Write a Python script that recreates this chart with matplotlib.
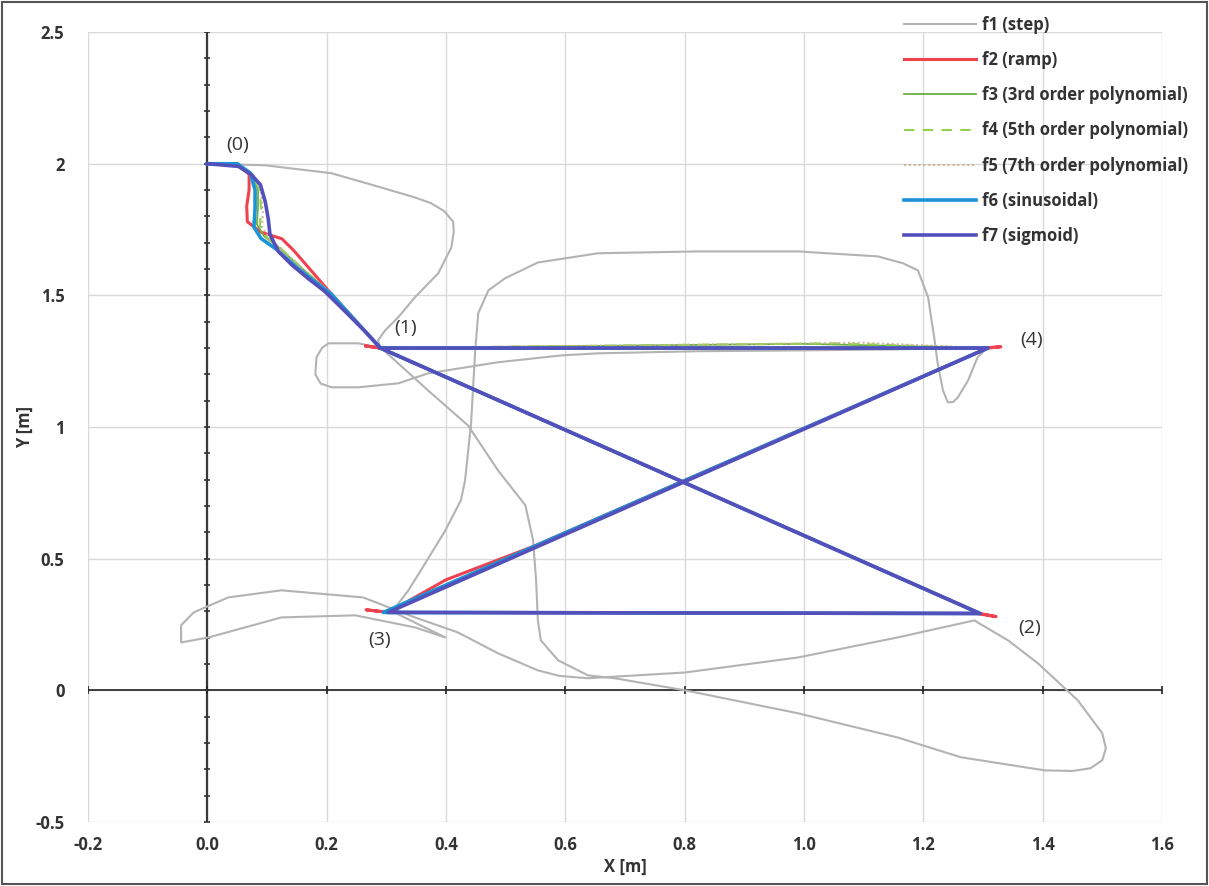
import numpy as np
import matplotlib
matplotlib.use("Agg")
import matplotlib.pyplot as plt
from matplotlib.patches import Rectangle

# ---- data ----
x_ticks = [-0.2, 0.0, 0.2, 0.4, 0.6, 0.8, 1.0, 1.2, 1.4, 1.6]
x_tick_labels = ["-0.2", "0.0", "0.2", "0.4", "0.6", "0.8", "1.0", "1.2", "1.4", "1.6"]
y_ticks = [-0.5, 0.0, 0.5, 1.0, 1.5, 2.0, 2.5]
y_tick_labels = ["-0.5", "0", "0.5", "1", "1.5", "2", "2.5"]

# f1 (step): big overshooting path 0 -> 1 -> 2 -> 3 -> 4 -> 1
f1_x = [0.0, 0.097, 0.208, 0.291, 0.348, 0.375, 0.397, 0.412, 0.413, 0.409, 0.387, 0.348, 0.320, 0.298,
        0.286, 0.290,
        0.370, 0.437, 0.487, 0.533, 0.546, 0.551, 0.554, 0.559, 0.588, 0.638, 0.683, 0.801, 0.990, 1.157,
        1.263, 1.404, 1.450, 1.480, 1.500, 1.506, 1.500, 1.459, 1.392, 1.342, 1.291,
        1.286, 1.157, 0.990, 0.801, 0.638, 0.590, 0.554, 0.487, 0.420, 0.348, 0.261, 0.124, 0.035, -0.023,
        -0.044, -0.044, 0.002, 0.124, 0.248, 0.348, 0.399, 0.350, 0.310,
        0.337, 0.365, 0.399, 0.425, 0.432, 0.442, 0.449, 0.454, 0.471, 0.499, 0.554, 0.655, 0.822, 0.990,
        1.124, 1.166, 1.191, 1.208, 1.213, 1.219, 1.224, 1.233, 1.241, 1.250, 1.258, 1.275, 1.291, 1.308,
        1.157, 0.990, 0.822, 0.655, 0.593, 0.487, 0.370, 0.320, 0.253, 0.208, 0.190, 0.181, 0.183, 0.192,
        0.203, 0.253, 0.286]
f1_y = [2.0, 1.994, 1.964, 1.910, 1.872, 1.850, 1.820, 1.780, 1.740, 1.682, 1.584, 1.493, 1.417, 1.367,
        1.329, 1.303,
        1.139, 1.006, 0.836, 0.703, 0.570, 0.418, 0.266, 0.190, 0.114, 0.057, 0.046, 0.0, -0.087, -0.179,
        -0.254, -0.304, -0.306, -0.296, -0.265, -0.220, -0.163, -0.038, 0.103, 0.190, 0.258,
        0.266, 0.201, 0.125, 0.068, 0.046, 0.055, 0.076, 0.141, 0.220, 0.277, 0.353, 0.380, 0.353, 0.296,
        0.247, 0.182, 0.201, 0.277, 0.285, 0.239, 0.201, 0.255, 0.300,
        0.380, 0.482, 0.608, 0.722, 0.798, 1.014, 1.291, 1.432, 1.519, 1.565, 1.625, 1.660, 1.667, 1.667,
        1.648, 1.622, 1.595, 1.493, 1.417, 1.329, 1.242, 1.139, 1.094, 1.095, 1.113, 1.177, 1.265, 1.303,
        1.295, 1.291, 1.288, 1.280, 1.272, 1.246, 1.204, 1.166, 1.151, 1.151, 1.165, 1.200, 1.265, 1.300,
        1.318, 1.318, 1.303]

# f2 (ramp)
f2_x = [0.0, 0.050, 0.070, 0.070, 0.066, 0.067, 0.090, 0.125, 0.145, 0.210, 0.290, 0.265, 0.290,
        1.295, 1.322, 1.290, 0.305, 0.266, 0.303, 0.400, 0.550, 1.308, 1.330, 1.300, 0.290]
f2_y = [2.0, 2.0, 1.960, 1.900, 1.840, 1.780, 1.740, 1.715, 1.670, 1.500, 1.300, 1.308, 1.300,
        0.292, 0.280, 0.292, 0.296, 0.306, 0.296, 0.420, 0.550, 1.300, 1.305, 1.300, 1.300]

# f3 (3rd order polynomial)
f3_x = [0.0, 0.050, 0.075, 0.085, 0.085, 0.083, 0.095, 0.118, 0.155, 0.208, 0.290,
        1.295, 0.303, 1.308, 1.000, 0.290]
f3_y = [2.0, 2.0, 1.962, 1.900, 1.840, 1.770, 1.725, 1.685, 1.610, 1.505, 1.300,
        0.292, 0.296, 1.300, 1.316, 1.300]

# f4 (5th order polynomial)
f4_x = [0.0, 0.050, 0.076, 0.088, 0.090, 0.088, 0.100, 0.122, 0.158, 0.210, 0.290,
        1.295, 0.303, 1.308, 1.050, 0.290]
f4_y = [2.0, 2.0, 1.960, 1.895, 1.830, 1.765, 1.720, 1.680, 1.605, 1.502, 1.300,
        0.292, 0.296, 1.300, 1.318, 1.300]

# f5 (7th order polynomial)
f5_x = [0.0, 0.050, 0.077, 0.090, 0.093, 0.092, 0.104, 0.125, 0.160, 0.212, 0.290,
        1.295, 0.303, 1.308, 1.100, 0.290]
f5_y = [2.0, 2.0, 1.958, 1.890, 1.820, 1.760, 1.715, 1.676, 1.600, 1.500, 1.300,
        0.292, 0.296, 1.300, 1.320, 1.300]

# f6 (sinusoidal)
f6_x = [0.0, 0.050, 0.072, 0.080, 0.080, 0.078, 0.090, 0.114, 0.152, 0.208, 0.290,
        1.295, 0.295, 1.308, 0.290]
f6_y = [2.0, 2.0, 1.965, 1.900, 1.830, 1.760, 1.716, 1.678, 1.602, 1.504, 1.300,
        0.292, 0.296, 1.300, 1.300]

# f7 (sigmoid)
f7_x = [0.0, 0.052, 0.074, 0.089, 0.097, 0.102, 0.105, 0.119, 0.141, 0.169, 0.197, 0.231, 0.264, 0.290,
        1.295, 0.303, 1.308, 0.290]
f7_y = [2.0, 1.990, 1.958, 1.920, 1.856, 1.792, 1.731, 1.667, 1.617, 1.564, 1.515, 1.439, 1.364, 1.300,
        0.292, 0.296, 1.300, 1.300]

point_labels = ["(0)", "(1)", "(2)", "(3)", "(4)"]
label_x = [0.050, 0.332, 1.378, 0.288, 1.382]
label_y = [2.07, 1.375, 0.238, 0.190, 1.330]

# ---- figure ----
fig = plt.figure(figsize=(12.09, 8.86), dpi=100)
ax = fig.add_axes([0.0728, 0.0722, 0.8883, 0.8916])

font = "Open Sans"
grid_c = "#d9d9d9"
text_c = "#333333"

ax.set_xlim(-0.2, 1.6)
ax.set_ylim(-0.5, 2.5)
for s in ax.spines.values():
    s.set_visible(False)

# grid lines like the Excel plot area
for xv in x_ticks:
    ax.axvline(xv, color=grid_c, lw=1.0, zorder=0)
for yv in y_ticks:
    ax.axhline(yv, color=grid_c, lw=1.0, zorder=0)

# zero axes
ax.axhline(0, color="#222222", lw=1.2, zorder=1)
ax.axvline(0, color="#3a3a3a", lw=1.6, zorder=1)
ax.plot(x_ticks, np.zeros(len(x_ticks)), ls="none", marker="|", ms=6, color="#222222",
        markeredgewidth=1.2, zorder=1)
minor_y = np.arange(-0.5, 2.51, 0.1)
ax.plot(np.zeros(len(minor_y)), minor_y, ls="none", marker="_", ms=5, color="#333333",
        markeredgewidth=1.2, zorder=1)

# trajectories
ax.plot(f1_x, f1_y, color="#b3b3b3", lw=1.5, label="f1 (step)", zorder=2)
ax.plot(f2_x, f2_y, color="#f0414f", lw=2.2, label="f2 (ramp)", zorder=3)
ax.plot(f3_x, f3_y, color="#70ad47", lw=1.3, label="f3 (3rd order polynomial)", zorder=3)
ax.plot(f4_x, f4_y, color="#92d050", lw=1.5, ls=(0, (5, 4)), label="f4 (5th order polynomial)", zorder=3)
ax.plot(f5_x, f5_y, color="#c9b38f", lw=1.4, ls=(0, (1, 1.5)), label="f5 (7th order polynomial)", zorder=3)
ax.plot(f6_x, f6_y, color="#1a94d6", lw=2.6, label="f6 (sinusoidal)", zorder=4)
ax.plot(f7_x, f7_y, color="#5450bb", lw=2.6, label="f7 (sigmoid)", zorder=5)

for t, lx, ly in zip(point_labels, label_x, label_y):
    ax.text(lx, ly, t, fontsize=14, family=font, color=text_c, ha="center", va="center", zorder=6)

# ticks / labels outside the plot area
ax.set_xticks(x_ticks)
ax.set_xticklabels(x_tick_labels, fontsize=12, family=font, fontweight="bold", color=text_c)
ax.set_yticks(y_ticks)
ax.set_yticklabels(y_tick_labels, fontsize=12, family=font, fontweight="bold", color=text_c)
ax.tick_params(axis="both", length=0)
ax.tick_params(axis="x", pad=10)
ax.tick_params(axis="y", pad=17)

ax.set_xlabel("X [m]", fontsize=12, family=font, fontweight="bold", color=text_c)
ax.set_ylabel("Y [m]", fontsize=12, family=font, fontweight="bold", color=text_c)
ax.xaxis.set_label_coords(0.5, -0.045)
ax.yaxis.set_label_coords(-0.050, 0.5)

leg = fig.legend(loc="upper left", bbox_to_anchor=(0.748, 0.982), frameon=False,
                 handlelength=4.3, handletextpad=0.35, labelspacing=1.03,
                 borderpad=0, borderaxespad=0,
                 prop={"family": font, "size": 12, "weight": "bold"})
for txt in leg.get_texts():
    txt.set_color(text_c)

# chart border
fig.patches.append(Rectangle((0.002, 0.002), 0.996, 0.996, transform=fig.transFigure,
                             fill=False, edgecolor="#555555", lw=1.5))

fig.savefig("out.png", dpi=100)
